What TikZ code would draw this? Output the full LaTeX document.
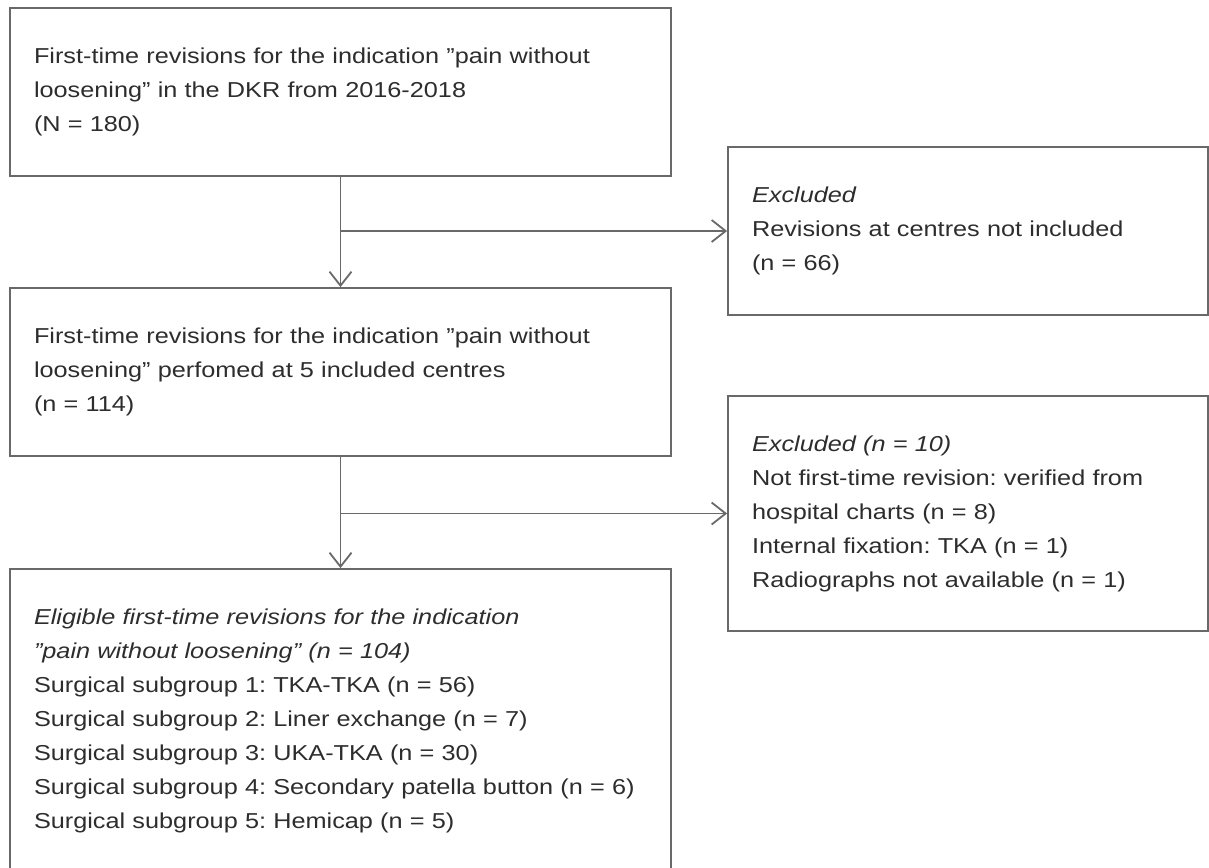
\documentclass[tikz,border=0pt]{standalone}
\usepackage{fontspec}
\setmainfont{Liberation Sans}[FakeStretch=1.17]
\usepackage{xcolor}
\usetikzlibrary{arrows.meta}
\frenchspacing

\definecolor{linegray}{RGB}{105,105,105}
\definecolor{textgray}{RGB}{45,45,45}

\tikzset{
  flowbox/.style={draw=linegray, line width=0.9pt, text=textgray, align=left,
    inner xsep=12pt, font=\fontsize{10.8}{17}\selectfont},
  widebox/.style={flowbox, minimum width=330.5pt, text width=306.5pt},
  sidebox/.style={flowbox, minimum width=240pt, text width=216pt},
  flowline/.style={draw=linegray, line width=0.9pt, -{Straight Barb[length=7pt,width=11pt]}},
}

\begin{document}
\begin{tikzpicture}[x=0.5pt,y=-0.5pt]
\useasboundingbox (0,0) rectangle (1209,867);

\node [widebox, minimum height=84pt] (dkr) at (340.5,92)
  {First-time revisions for the indication ”pain without\\
   loosening” in the DKR from 2016-2018\\
   (N = 180)};
\node [widebox, minimum height=84pt] (centres) at (340.5,372)
  {First-time revisions for the indication ”pain without\\
   loosening” perfomed at 5 included centres\\
   (n = 114)};
\node [widebox, minimum height=152pt] (eligible) at (340.5,721)
  {\textit{Eligible first-time revisions for the indication}\\
   \textit{”pain without loosening” (n = 104)}\\
   Surgical subgroup 1: TKA-TKA (n = 56)\\
   Surgical subgroup 2: Liner exchange (n = 7)\\
   Surgical subgroup 3: UKA-TKA (n = 30)\\
   Surgical subgroup 4: Secondary patella button (n = 6)\\
   Surgical subgroup 5: Hemicap (n = 5)};

\node [sidebox, minimum height=84pt] (excl1) at (968,231)
  {\textit{Excluded}\\
   Revisions at centres not included\\
   (n = 66)};
\node [sidebox, minimum height=117.5pt] (excl2) at (968,513.5)
  {\textit{Excluded (n = 10)}\\
   Not first-time revision: verified from\\
   hospital charts (n = 8)\\
   Internal fixation: TKA (n = 1)\\
   Radiographs not available (n = 1)};

\coordinate (split1) at (dkr.south |- excl1.west);
\coordinate (split2) at (centres.south |- excl2.west);

\draw [flowline] (dkr.south) -- (centres.north);
\draw [flowline] (split1) -- (excl1.west);

\draw [flowline] (centres.south) -- (eligible.north);
\draw [flowline] (split2) -- (excl2.west);
\end{tikzpicture}
\end{document}
